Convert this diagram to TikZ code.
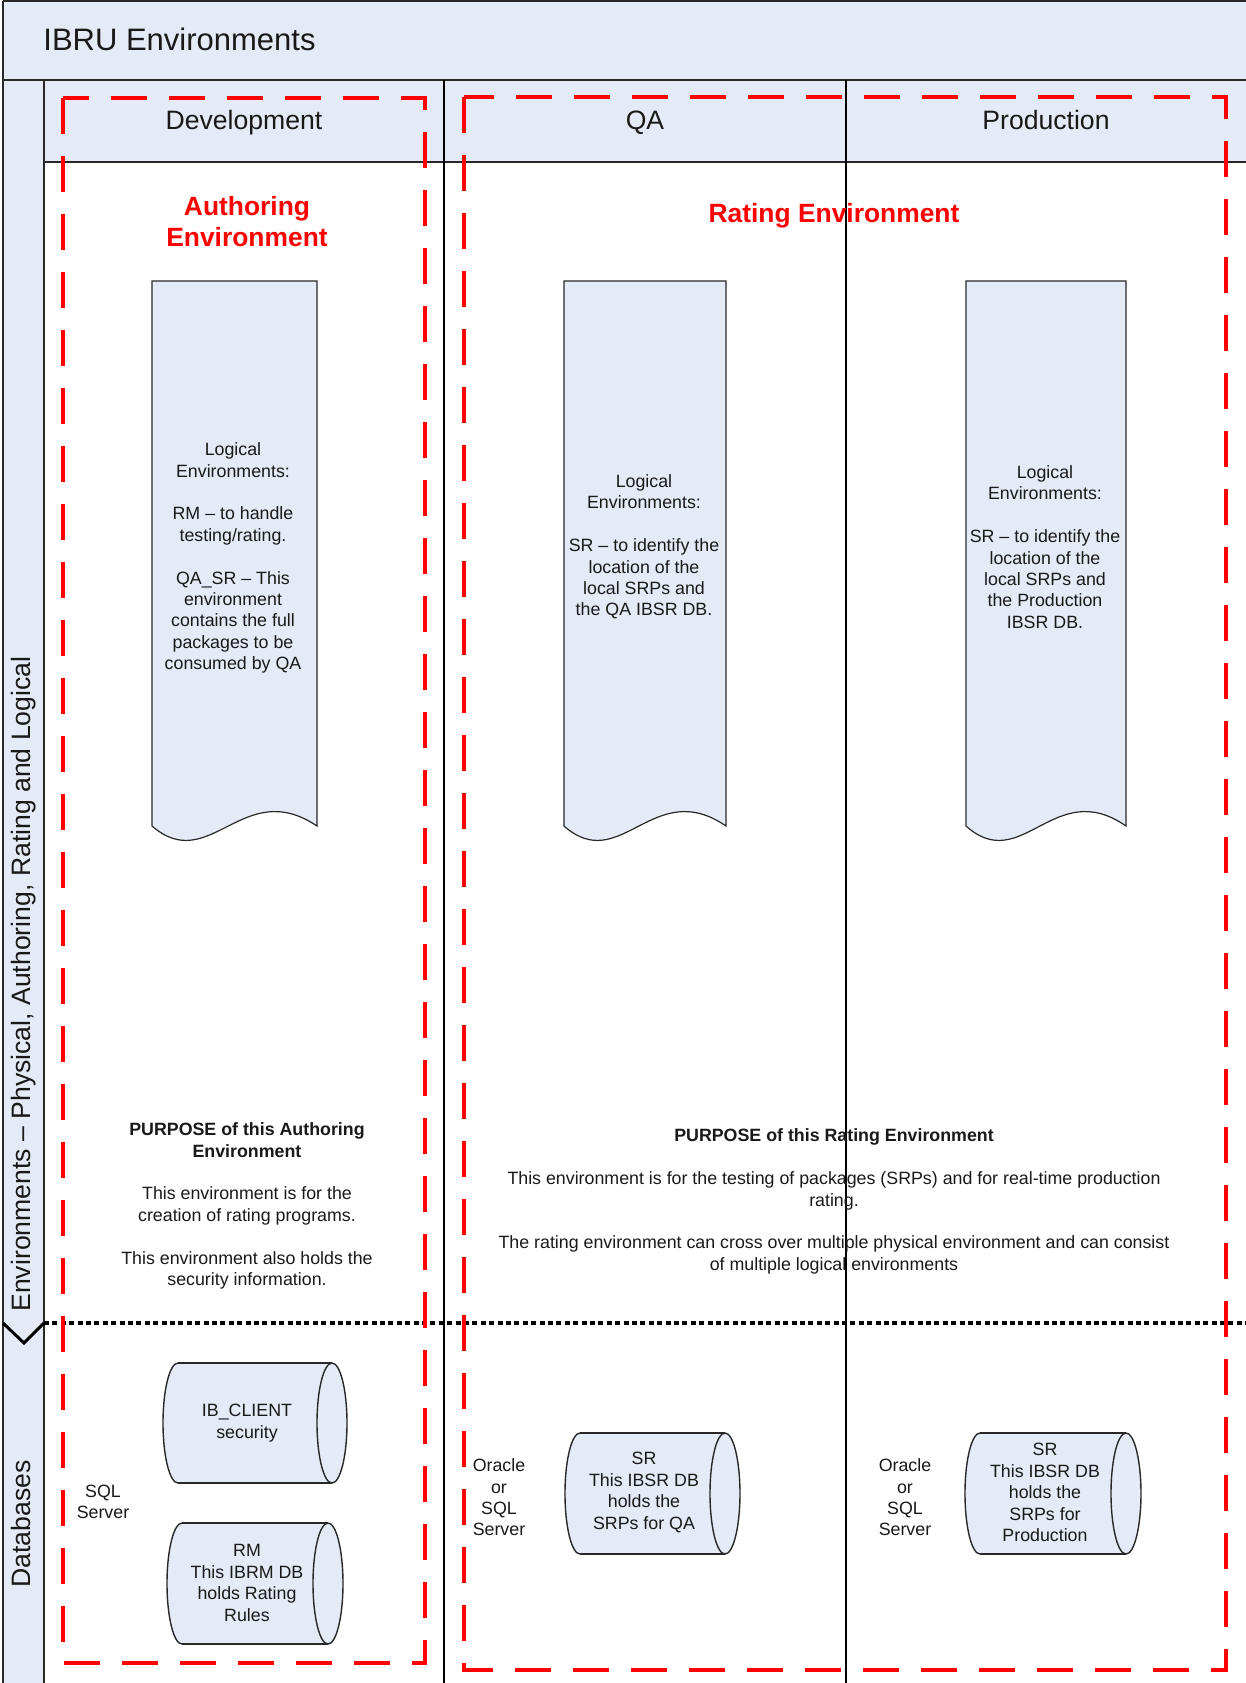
\documentclass[tikz,border=0pt]{standalone}
\usepackage{fontspec}
\setmainfont{Liberation Sans}
\definecolor{lb}{RGB}{228,235,247}
\definecolor{ln}{RGB}{40,40,40}
\definecolor{tx}{RGB}{25,25,25}
\definecolor{rd}{RGB}{255,0,0}
\newcommand{\dbcyl}[5]{%
  \pgfmathsetmacro\cym{(#4+#5)/2}%
  \pgfmathsetmacro\cry{(#5-#4)/2}%
  \pgfmathsetmacro\crk{0.5523*\cry}%
  \fill[lb] (#2,#4) rectangle (#3,#5);
  \fill[lb] (#2,\cym) ellipse [x radius=15, y radius=\cry];
  \fill[lb] (#3,\cym) ellipse [x radius=15, y radius=\cry];
  \draw[dbline] (#2,#4) -- (#3,#4) (#2,#5) -- (#3,#5);
  \draw[dbline] (#3,\cym) ellipse [x radius=15, y radius=\cry];
  \draw[dbline] (#2,#4) .. controls ({#2-8.3},#4) and ({#2-15},{\cym-\crk}) .. ({#2-15},\cym)
                        .. controls ({#2-15},{\cym+\crk}) and ({#2-8.3},#5) .. (#2,#5);
  \coordinate (#1) at ({(#2+#3)/2},\cym);
}
\newcommand{\docshp}[4]{% name, left, right, top ; sides end at 826
  \pgfmathsetmacro\dw{#3-#2}%
  \draw[docshape] (#2,#4) -- (#3,#4) -- (#3,826)
     .. controls ({#2+0.55*\dw},776) and ({#2+0.35*\dw},876) .. (#2,826) -- cycle;
  \coordinate (#1) at ({(#2+#3)/2},550);
}
\begin{document}
\begin{tikzpicture}[x=0.5pt,y=-0.5pt,
  small/.style={font=\fontsize{8.9}{10.7}\selectfont, text=tx, align=center, inner sep=0pt},
  hdr/.style={font=\fontsize{13.3}{16}\selectfont, text=tx, inner sep=0pt, anchor=base},
  redlbl/.style={font=\fontsize{13.2}{15.5}\selectfont\bfseries, text=rd, inner sep=0pt, align=center},
  gridline/.style={draw=ln, line width=0.75pt},
  envbox/.style={draw=rd, line width=2pt, dash pattern=on 18pt off 11pt},
  sepline/.style={draw=black, line width=1.7pt, dash pattern=on 2.5pt off 1.7pt},
  docshape/.style={fill=lb, draw=ln, line width=0.6pt},
  dbline/.style={draw=ln, line width=0.7pt},
]
\useasboundingbox (0,0) rectangle (1246,1683);
\clip (0,0) rectangle (1246,1683);
\fill[white] (0,0) rectangle (1246,1683);

% fills
\fill[lb] (3,1) rectangle (1250,80);
\fill[lb] (44,80) rectangle (1250,162);
\fill[lb] (3,80) rectangle (44,1690);

% grid lines
\draw[gridline, line width=1pt] (3,1) -- (1250,1);
\draw[gridline, line width=1pt] (3,1) -- (3,1690);
\draw[gridline, line width=1.3pt] (3,80) -- (1250,80);
\draw[gridline] (44,80) -- (44,1690);
\draw[gridline] (44,162) -- (1250,162);
\draw[gridline, draw=black] (444,80) -- (444,1690);
\draw[gridline, draw=black, line width=0.6pt] (846,80) -- (846,1690);

% titles
\node[font=\fontsize{15.5}{18}\selectfont, text=tx, inner sep=0pt, anchor=base west] (title) at (43,50) {IBRU Environments};
\node[hdr] (hdev) at (244,129) {Development};
\node[hdr] (hqa) at (645,129) {QA};
\node[hdr] (hprod) at (1046,129) {Production};
\node[hdr, rotate=90] (lane1) at (30.5,984) {Environments – Physical, Authoring, Rating and Logical};
\node[hdr, rotate=90] (lane2) at (30.5,1524) {Databases};

% separator
\draw[sepline] (44,1323) -- (1250,1323);
\draw[black, line width=1.5pt, line join=miter] (3,1323) -- (24,1343) -- (44,1323);

% red labels
\node[redlbl] (authlbl) at (247,222) {Authoring\\Environment};
\node[redlbl, anchor=base] (ratelbl) at (834,222) {Rating Environment};

% documents
\docshp{ddev}{152}{317}{281}
\docshp{dqa}{564}{726}{281}
\docshp{dprod}{966}{1126}{281}
\node[small] (tdev) at (233,558) {Logical\\Environments:\\[10.7pt]RM – to handle\\testing/rating.\\[10.7pt]QA\_SR – This\\environment\\contains the full\\packages to be\\consumed by QA};
\node[small] (tqa) at (644,547) {Logical\\Environments:\\[10.7pt]SR – to identify the\\location of the\\local SRPs and\\the QA IBSR DB.};
\node[small] (tprod) at (1045,547) {Logical\\Environments:\\[10.7pt]SR – to identify the\\location of the\\local SRPs and\\the Production\\IBSR DB.};

% purpose texts
\node[small] (pdev) at (247,1206) {\textbf{PURPOSE of this Authoring}\\\textbf{Environment}\\[10.7pt]This environment is for the\\creation of rating programs.\\[10.7pt]This environment also holds the\\security information.};
\node[small] (prate) at (834,1201.5) {\textbf{PURPOSE of this Rating Environment}\\[10.7pt]This environment is for the testing of packages (SRPs) and for real-time production\\rating.\\[10.7pt]The rating environment can cross over multiple physical environment and can consist\\of multiple logical environments};

% databases
\dbcyl{cib}{178}{332}{1363}{1483}
\dbcyl{crm}{182}{328}{1523}{1644}
\dbcyl{cqa}{580}{725}{1433}{1554}
\dbcyl{cprod}{980}{1126}{1433}{1554}
\node[small] (tib) at (247,1423) {IB\_CLIENT\\security};
\node[small] (trm) at (247,1583) {RM\\This IBRM DB\\holds Rating\\Rules};
\node[small] (tcqa) at (644,1492.5) {SR\\This IBSR DB\\holds the\\SRPs for QA};
\node[small] (tcprod) at (1045,1492.5) {SR\\This IBSR DB\\holds the\\SRPs for\\Production};
\node[small] (sql1) at (103,1502) {SQL\\Server};
\node[small] (ora1) at (499,1497.5) {Oracle\\or\\SQL\\Server};
\node[small] (ora2) at (905,1497.5) {Oracle\\or\\SQL\\Server};

% red dashed environment boxes
\draw[envbox] (63,98) rectangle (425,1663);
\draw[envbox] (464,97) rectangle (1226,1670);
\end{tikzpicture}
\end{document}
